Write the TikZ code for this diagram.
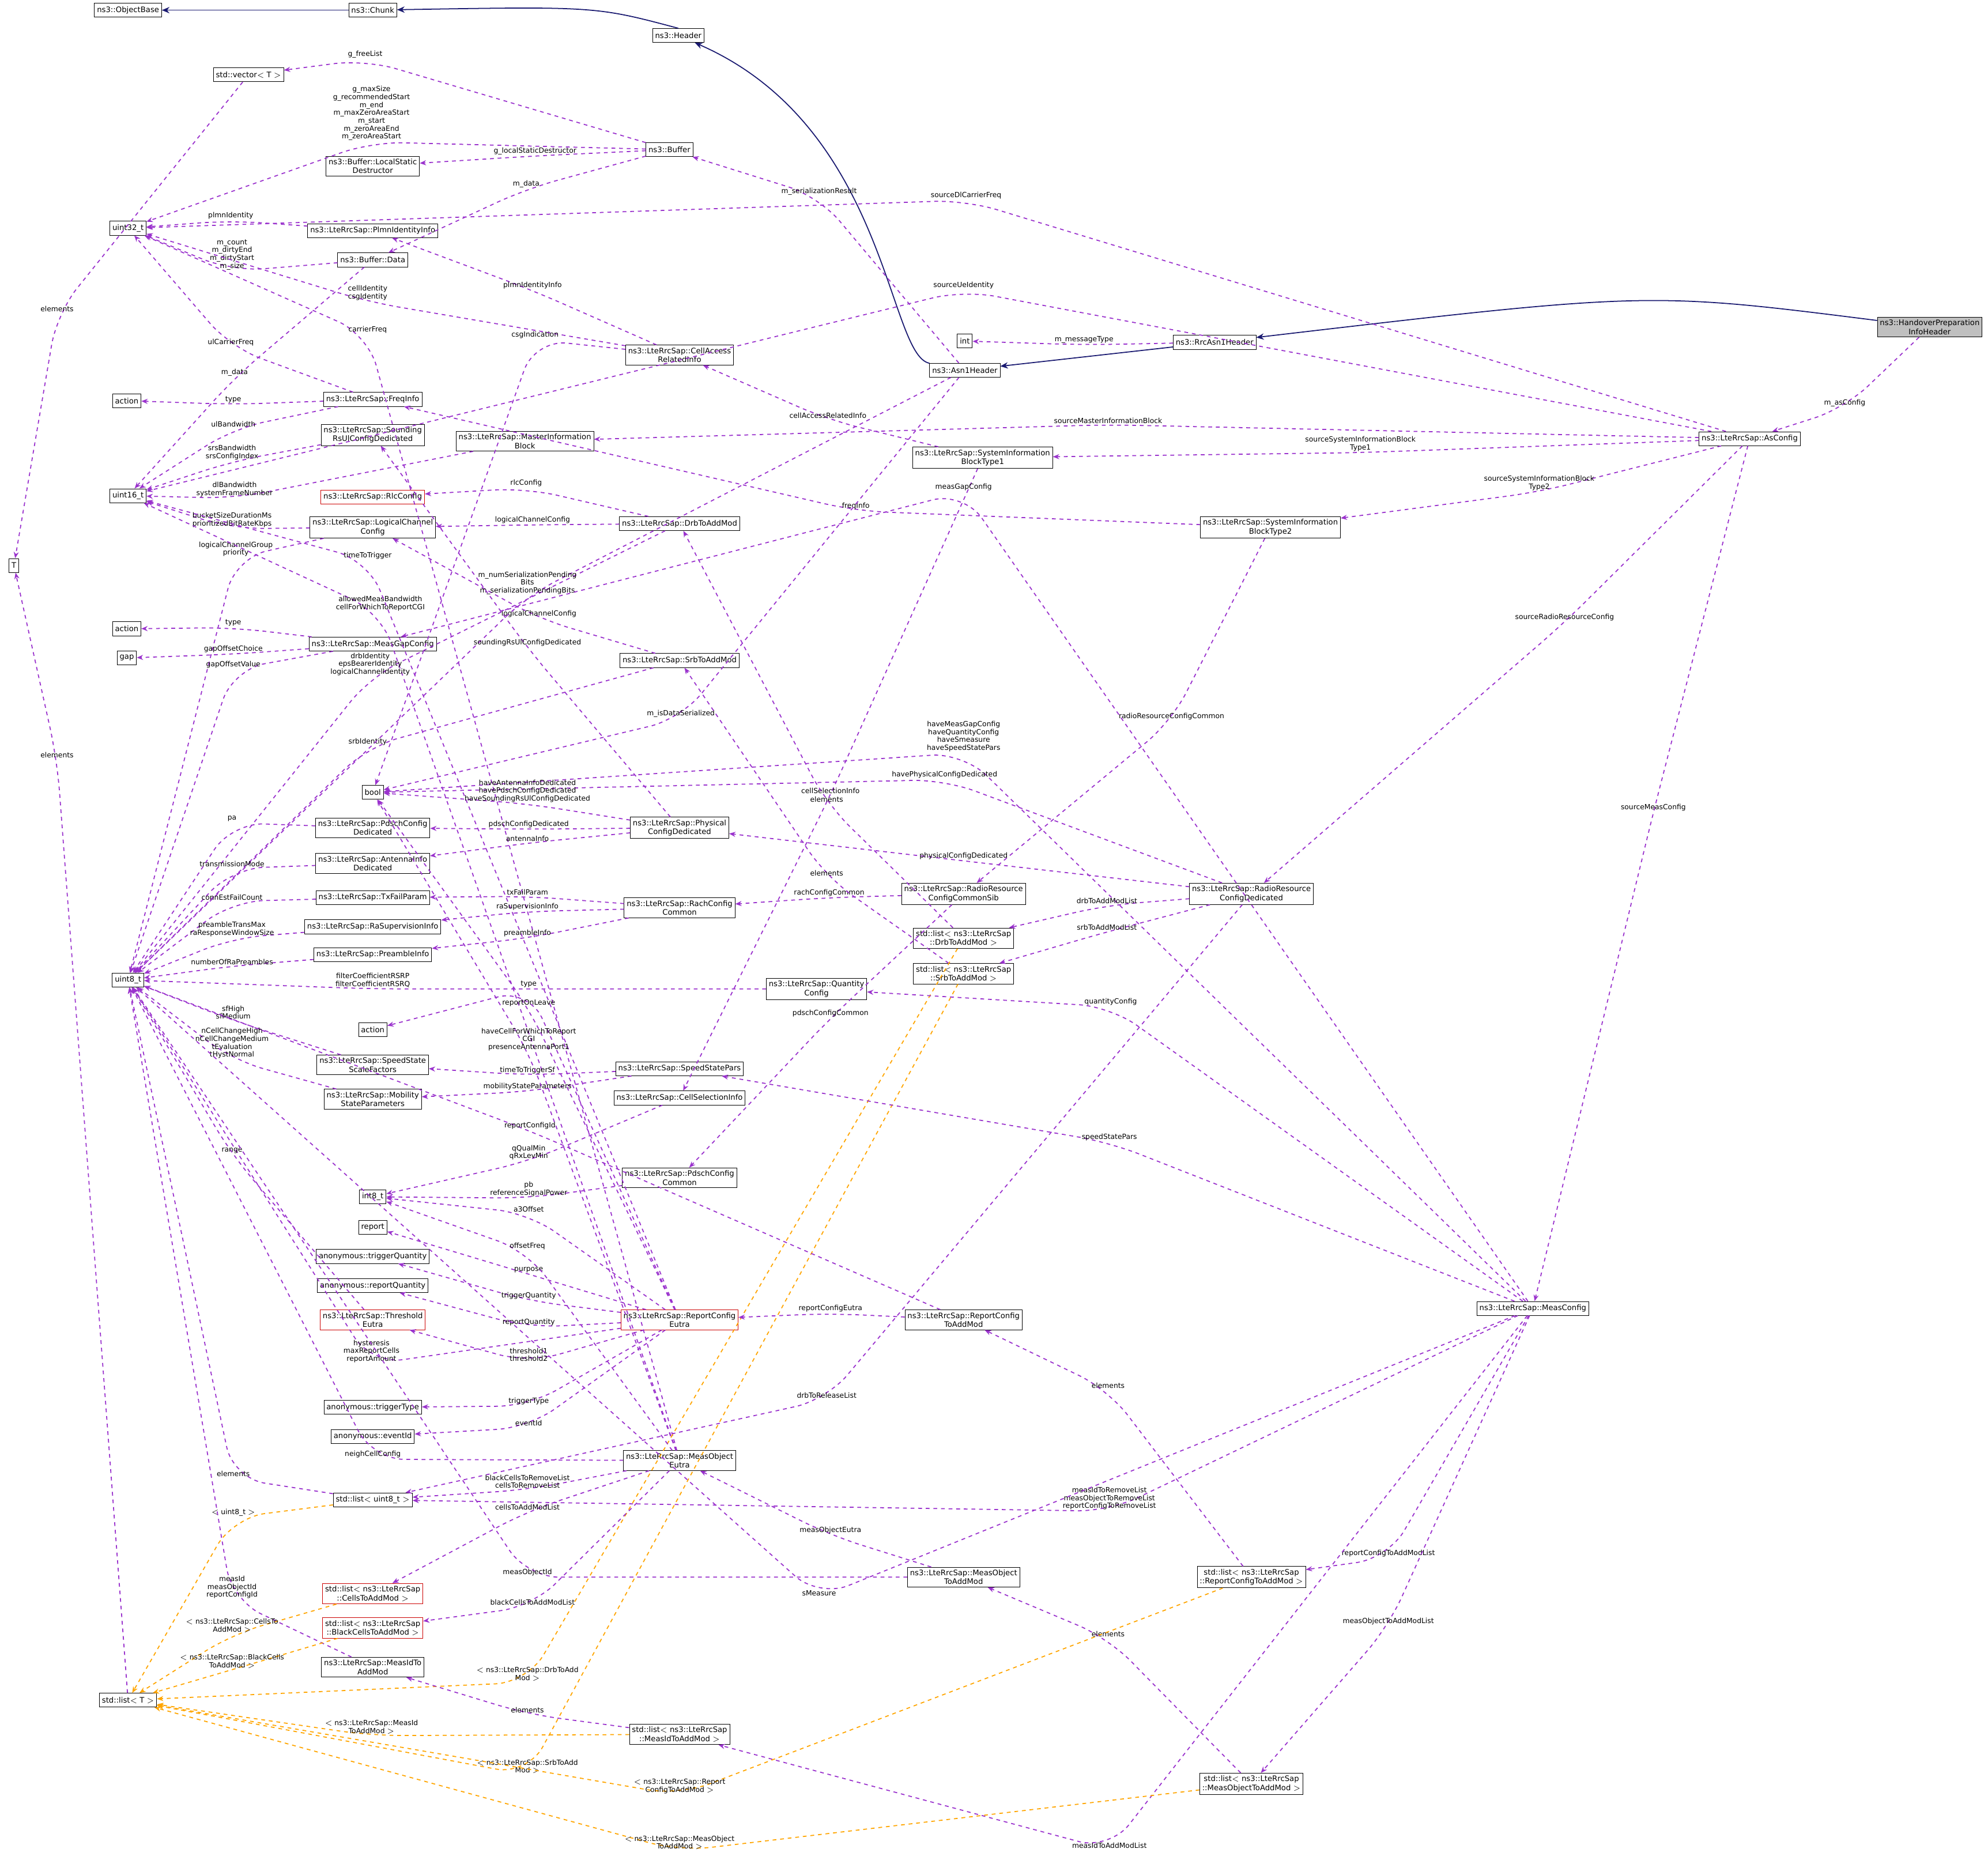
\documentclass[tikz,border=0pt]{standalone}
\usepackage{fontspec}
\setmainfont{DejaVu Sans}
\usetikzlibrary{arrows.meta}
\definecolor{usec}{HTML}{9A32CD}
\definecolor{inhc}{HTML}{191970}
\definecolor{tplc}{HTML}{FFA500}
\tikzset{
 cls/.style={draw=black,fill=white,inner sep=2pt,minimum height=11pt,align=center,font=\fontsize{6}{7}\selectfont},
 red/.style={draw=red!80!black},
 use/.style={draw=usec,dashed,thick,rounded corners=25pt,-{Stealth[length=5pt,width=4pt]}},
 tpl/.style={draw=tplc,dashed,thick,rounded corners=25pt,-{Stealth[length=5pt,width=4pt]}},
 inh/.style={draw=inhc,thick,-{Stealth[length=6pt,width=5pt]}},
 lbl/.style={align=center,inner sep=1pt,font=\fontsize{5.6}{6.2}\selectfont}
}
\newcommand\myE[5][use]{\draw[#1] (#2) -- (#3) -- (#5); \node[lbl,anchor=south] at (#3) {#4};}
\begin{document}
\begin{tikzpicture}[x=1pt,y=-1pt]
\useasboundingbox (0,0) rectangle (1568,1470);
% nodes
\node[cls] (ObjectBase) at (101,8) {ns3::ObjectBase};
\node[cls] (Chunk) at (294,8) {ns3::Chunk};
\node[cls] (Header) at (535,28) {ns3::Header};
\node[cls] (vectorT) at (196,59) {std::vector$<$ T $>$};
\node[cls] (Buffer) at (528,118) {ns3::Buffer};
\node[cls] (LocalStatic) at (294,131) {ns3::Buffer::LocalStatic\\Destructor};
\node[cls] (uint32) at (101,180) {uint32\_t};
\node[cls] (Plmn) at (294,182) {ns3::LteRrcSap::PlmnIdentityInfo};
\node[cls] (BufferData) at (294,205) {ns3::Buffer::Data};
\node[cls] (intN) at (761,269) {int};
\node[cls] (RrcAsn1) at (958,270) {ns3::RrcAsn1Header};
\node[cls] (Asn1) at (761,292) {ns3::Asn1Header};
\node[cls,fill=black!25] (Handover) at (1522,258) {ns3::HandoverPreparation\\InfoHeader};
\node[cls] (CellAccess) at (536,280) {ns3::LteRrcSap::CellAccess\\RelatedInfo};
\node[cls] (action1) at (100,316) {action};
\node[cls] (FreqInfo) at (294,315) {ns3::LteRrcSap::FreqInfo};
\node[cls] (Sounding) at (294,343) {ns3::LteRrcSap::Sounding\\RsUlConfigDedicated};
\node[cls] (MIB) at (414,348) {ns3::LteRrcSap::MasterInformation\\Block};
\node[cls] (uint16) at (101,391) {uint16\_t};
\node[cls] (SIB1) at (775,361) {ns3::LteRrcSap::SystemInformation\\BlockType1};
\node[cls] (AsConfig) at (1380,346) {ns3::LteRrcSap::AsConfig};
\node[cls,red] (Rlc) at (294,392) {ns3::LteRrcSap::RlcConfig};
\node[cls] (Drb) at (536,413) {ns3::LteRrcSap::DrbToAddMod};
\node[cls] (LCC) at (294,416) {ns3::LteRrcSap::LogicalChannel\\Config};
\node[cls] (SIB2) at (1002,416) {ns3::LteRrcSap::SystemInformation\\BlockType2};
\node[cls] (action2) at (100,496) {action};
\node[cls] (gap) at (100,519) {gap};
\node[cls] (MeasGap) at (294,508) {ns3::LteRrcSap::MeasGapConfig};
\node[cls] (Srb) at (536,521) {ns3::LteRrcSap::SrbToAddMod};
\node[cls] (bool) at (294,625) {bool};
\node[cls] (PdschDed) at (294,653) {ns3::LteRrcSap::PdschConfig\\Dedicated};
\node[cls] (Physical) at (536,653) {ns3::LteRrcSap::Physical\\ConfigDedicated};
\node[cls] (Antenna) at (294,681) {ns3::LteRrcSap::AntennaInfo\\Dedicated};
\node[cls] (TxFail) at (294,708) {ns3::LteRrcSap::TxFailParam};
\node[cls] (Rach) at (536,716) {ns3::LteRrcSap::RachConfig\\Common};
\node[cls] (RRSib) at (760,705) {ns3::LteRrcSap::RadioResource\\ConfigCommonSib};
\node[cls] (RRDed) at (987,705) {ns3::LteRrcSap::RadioResource\\ConfigDedicated};
\node[cls] (DrbList) at (760,740) {std::list$<$ ns3::LteRrcSap\\::DrbToAddMod $>$};
\node[cls] (RaSup) at (294,731) {ns3::LteRrcSap::RaSupervisionInfo};
\node[cls] (SrbList) at (760,768) {std::list$<$ ns3::LteRrcSap\\::SrbToAddMod $>$};
\node[cls] (uint8) at (101,773) {uint8\_t};
\node[cls] (Preamble) at (294,753) {ns3::LteRrcSap::PreambleInfo};
\node[cls] (Quantity) at (644,780) {ns3::LteRrcSap::Quantity\\Config};
\node[cls] (action3) at (294,812) {action};
\node[cls] (SSSF) at (294,840) {ns3::LteRrcSap::SpeedState\\ScaleFactors};
\node[cls] (SSP) at (536,843) {ns3::LteRrcSap::SpeedStatePars};
\node[cls] (CellSel) at (536,866) {ns3::LteRrcSap::CellSelectionInfo};
\node[cls] (Mobility) at (294,867) {ns3::LteRrcSap::Mobility\\StateParameters};
\node[cls] (PdschCom) at (536,929) {ns3::LteRrcSap::PdschConfig\\Common};
\node[cls] (int8) at (294,944) {int8\_t};
\node[cls] (report) at (294,968) {report};
\node[cls] (trigQ) at (294,991) {anonymous::triggerQuantity};
\node[cls] (repQ) at (294,1014) {anonymous::reportQuantity};
\node[cls,red] (Thresh) at (294,1041) {ns3::LteRrcSap::Threshold\\Eutra};
\node[cls,red] (RCE) at (536,1041) {ns3::LteRrcSap::ReportConfig\\Eutra};
\node[cls] (RCTAM) at (760,1041) {ns3::LteRrcSap::ReportConfig\\ToAddMod};
\node[cls] (MeasConfig) at (1209,1032) {ns3::LteRrcSap::MeasConfig};
\node[cls] (trigType) at (294,1110) {anonymous::triggerType};
\node[cls] (eventId) at (294,1133) {anonymous::eventId};
\node[cls] (MOE) at (536,1152) {ns3::LteRrcSap::MeasObject\\Eutra};
\node[cls] (listU8) at (294,1183) {std::list$<$ uint8\_t $>$};
\node[cls] (MOTAM) at (760,1244) {ns3::LteRrcSap::MeasObject\\ToAddMod};
\node[cls] (RCList) at (987,1244) {std::list$<$ ns3::LteRrcSap\\::ReportConfigToAddMod $>$};
\node[cls,red] (CellsList) at (294,1257) {std::list$<$ ns3::LteRrcSap\\::CellsToAddMod $>$};
\node[cls,red] (BlackList) at (294,1284) {std::list$<$ ns3::LteRrcSap\\::BlackCellsToAddMod $>$};
\node[cls] (MITAM) at (294,1315) {ns3::LteRrcSap::MeasIdTo\\AddMod};
\node[cls] (listT) at (101,1341) {std::list$<$ T $>$};
\node[cls] (MIList) at (536,1368) {std::list$<$ ns3::LteRrcSap\\::MeasIdToAddMod $>$};
\node[cls] (MOList) at (987,1407) {std::list$<$ ns3::LteRrcSap\\::MeasObjectToAddMod $>$};
\node[cls] (T) at (11,446) {T};
% inheritance
\draw[inh] (Chunk) -- (ObjectBase);
\draw[inh] (Header.north) .. controls (470,5) .. (Chunk);
\draw[inh] (Asn1) .. controls (700,280) and (700,100) .. (Header);
\draw[inh] (RrcAsn1) -- (Asn1);
\draw[inh] (Handover) .. controls (1300,230) .. (RrcAsn1);
% usage
\myE{Buffer}{288,47}{g\_freeList}{vectorT}
\myE{Buffer}{293,112}{g\_maxSize\\g\_recommendedStart\\m\_end\\m\_maxZeroAreaStart\\m\_start\\m\_zeroAreaEnd\\m\_zeroAreaStart}{uint32}
\myE{Buffer}{422,123}{g\_localStaticDestructor}{LocalStatic}
\myE{Buffer}{415,149}{m\_data}{BufferData}
\myE{Asn1}{646,155}{m\_serializationResult}{Buffer}
\myE{RrcAsn1}{855,272}{m\_messageType}{intN}
\myE{Handover}{1455,322}{m\_asConfig}{AsConfig}
\myE{AsConfig}{762,158}{sourceDlCarrierFreq}{uint32}
\myE{AsConfig}{760,229}{sourceUeIdentity}{uint16}
\myE{Plmn}{182,174}{plmnIdentity}{uint32}
\myE{BufferData}{183,214}{m\_count\\m\_dirtyEnd\\m\_dirtyStart\\m\_size}{uint32}
\myE{BufferData}{185,298}{m\_data}{uint16}
\myE{CellAccess}{290,238}{cellIdentity\\csgIdentity}{uint32}
\myE{CellAccess}{420,229}{plmnIdentityInfo}{Plmn}
\myE{CellAccess}{422,268}{csgIndication}{bool}
\myE{MOE}{290,264}{carrierFreq}{uint32}
\myE{FreqInfo}{182,274}{ulCarrierFreq}{uint32}
\myE{FreqInfo}{184,319}{type}{action1}
\myE{FreqInfo}{184,338}{ulBandwidth}{uint16}
\myE{Sounding}{183,364}{srsBandwidth\\srsConfigIndex}{uint16}
\myE{MIB}{185,393}{dlBandwidth\\systemFrameNumber}{uint16}
\myE{LCC}{183,417}{bucketSizeDurationMs\\prioritizedBitRateKbps}{uint16}
\myE{LCC}{186,440}{logicalChannelGroup\\priority}{uint8}
\myE{MOE}{300,483}{allowedMeasBandwidth\\cellForWhichToReportCGI}{uint16}
\myE{RCE}{290,442}{timeToTrigger}{uint16}
\myE{AsConfig}{874,335}{sourceMasterInformationBlock}{MIB}
\myE{AsConfig}{1073,357}{sourceSystemInformationBlock\\Type1}{SIB1}
\myE{AsConfig}{1214,388}{sourceSystemInformationBlock\\Type2}{SIB2}
\myE{AsConfig}{1234,491}{sourceRadioResourceConfig}{RRDed}
\myE{AsConfig}{1304,641}{sourceMeasConfig}{MeasConfig}
\myE{SIB1}{653,331}{cellAccessRelatedInfo}{CellAccess}
\myE{SIB1}{655,627}{cellSelectionInfo}{CellSel}
\myE{SIB2}{675,403}{freqInfo}{FreqInfo}
\myE{SIB2}{924,569}{radioResourceConfigCommon}{RRSib}
\myE{Drb}{415,385}{rlcConfig}{Rlc}
\myE{Drb}{420,414}{logicalChannelConfig}{LCC}
\myE{Drb}{292,534}{drbIdentity\\epsBearerIdentity\\logicalChannelIdentity}{uint8}
\myE{Srb}{425,488}{logicalChannelConfig}{LCC}
\myE{Srb}{290,589}{srbIdentity}{uint8}
\myE{Asn1}{416,470}{m\_numSerializationPending\\Bits\\m\_serializationPendingBits}{uint8}
\myE{Asn1}{537,567}{m\_isDataSerialized}{bool}
\myE{MeasConfig}{760,388}{measGapConfig}{MeasGap}
\myE{MeasGap}{184,495}{type}{action2}
\myE{MeasGap}{184,516}{gapOffsetChoice}{gap}
\myE{MeasGap}{184,528}{gapOffsetValue}{uint8}
\myE{MeasConfig}{760,594}{haveMeasGapConfig\\haveQuantityConfig\\haveSmeasure\\haveSpeedStatePars}{bool}
\myE{RRDed}{745,615}{havePhysicalConfigDedicated}{bool}
\myE{Physical}{416,634}{haveAntennaInfoDedicated\\havePdschConfigDedicated\\haveSoundingRsUlConfigDedicated}{bool}
\myE{Physical}{416,511}{soundingRsUlConfigDedicated}{Sounding}
\myE{Physical}{417,654}{pdschConfigDedicated}{PdschDed}
\myE{Physical}{416,665}{antennaInfo}{Antenna}
\myE{PdschDed}{183,649}{pa}{uint8}
\myE{Antenna}{183,685}{transmissionMode}{uint8}
\myE{TxFail}{183,711}{connEstFailCount}{uint8}
\myE{RaSup}{183,740}{preambleTransMax\\raResponseWindowSize}{uint8}
\myE{Preamble}{183,762}{numberOfRaPreambles}{uint8}
\myE{Rach}{416,707}{txFailParam}{TxFail}
\myE{Rach}{416,719}{raSupervisionInfo}{RaSup}
\myE{Rach}{416,740}{preambleInfo}{Preamble}
\myE{RRSib}{654,708}{rachConfigCommon}{Rach}
\myE{RRSib}{655,803}{pdschConfigCommon}{PdschCom}
\myE{RRDed}{760,679}{physicalConfigDedicated}{Physical}
\myE{RRDed}{873,714}{drbToAddModList}{DrbList}
\myE{RRDed}{873,735}{srbToAddModList}{SrbList}
\myE{RRDed}{652,1104}{drbToReleaseList}{listU8}
\myE{DrbList}{652,634}{elements}{Drb}
\myE{SrbList}{652,692}{elements}{Srb}
\myE[tpl]{DrbList}{416,1327}{$<$ ns3::LteRrcSap::DrbToAdd\\Mod $>$}{listT}
\myE[tpl]{SrbList}{416,1400}{$<$ ns3::LteRrcSap::SrbToAdd\\Mod $>$}{listT}
\myE{Quantity}{294,780}{filterCoefficientRSRP\\filterCoefficientRSRQ}{uint8}
\myE{MeasConfig}{876,794}{quantityConfig}{Quantity}
\myE{MeasConfig}{875,901}{speedStatePars}{SSP}
\myE{RCE}{417,780}{type}{action3}
\myE{SSP}{416,848}{timeToTriggerSf}{SSSF}
\myE{SSP}{416,861}{mobilityStateParameters}{Mobility}
\myE{SSSF}{184,805}{sfHigh\\sfMedium}{uint8}
\myE{Mobility}{183,836}{nCellChangeHigh\\nCellChangeMedium\\tEvaluation\\tHystNormal}{uint8}
\myE{CellSel}{417,916}{qQualMin\\qRxLevMin}{int8}
\myE{PdschCom}{417,945}{pb\\referenceSignalPower}{int8}
\myE{RCE}{417,957}{a3Offset}{int8}
\myE{RCE}{417,1005}{purpose}{report}
\myE{RCE}{417,1026}{triggerQuantity}{trigQ}
\myE{RCE}{417,1047}{reportQuantity}{repQ}
\myE{RCE}{417,1075}{threshold1\\threshold2}{Thresh}
\myE{RCE}{293,1076}{hysteresis\\maxReportCells\\reportAmount}{uint8}
\myE{RCE}{417,1109}{triggerType}{trigType}
\myE{RCE}{417,1126}{eventId}{eventId}
\myE{RCE}{417,795}{reportOnLeave}{bool}
\myE{MOE}{417,830}{haveCellForWhichToReport\\CGI\\presenceAntennaPort1}{bool}
\myE{MOE}{416,987}{offsetFreq}{int8}
\myE{MOE}{294,1151}{neighCellConfig}{uint8}
\myE{MOE}{416,1175}{blackCellsToRemoveList\\cellsToRemoveList}{listU8}
\myE{MOE}{416,1192}{cellsToAddModList}{CellsList}
\myE{MOE}{420,1267}{blackCellsToAddModList}{BlackList}
\myE{Thresh}{183,911}{range}{uint8}
\myE{RCTAM}{655,1036}{reportConfigEutra}{RCE}
\myE{RCTAM}{418,892}{reportConfigId}{uint8}
\myE{listU8}{184,1166}{elements}{uint8}
\myE[tpl]{listU8}{184,1197}{$<$ uint8\_t $>$}{listT}
\myE{MOTAM}{655,1211}{measObjectEutra}{MOE}
\myE{MOTAM}{416,1244}{measObjectId}{uint8}
\myE{MeasConfig}{875,1192}{measIdToRemoveList\\measObjectToRemoveList\\reportConfigToRemoveList}{listU8}
\myE{MeasConfig}{646,1260}{sMeasure}{uint8}
\myE{MeasConfig}{1095,1229}{reportConfigToAddModList}{RCList}
\myE{MeasConfig}{1095,1283}{measObjectToAddModList}{MOList}
\myE{MeasConfig}{875,1459}{measIdToAddModList}{MIList}
\myE{RCList}{874,1096}{elements}{RCTAM}
\myE{MOList}{874,1292}{elements}{MOTAM}
\myE{MIList}{416,1352}{elements}{MITAM}
\myE{MITAM}{183,1262}{measId\\measObjectId\\reportConfigId}{uint8}
\myE[tpl]{CellsList}{183,1289}{$<$ ns3::LteRrcSap::CellsTo\\AddMod $>$}{listT}
\myE[tpl]{BlackList}{183,1317}{$<$ ns3::LteRrcSap::BlackCells\\ToAddMod $>$}{listT}
\myE[tpl]{MIList}{293,1369}{$<$ ns3::LteRrcSap::MeasId\\ToAddMod $>$}{listT}
\myE[tpl]{RCList}{536,1416}{$<$ ns3::LteRrcSap::Report\\ConfigToAddMod $>$}{listT}
\myE[tpl]{MOList}{536,1460}{$<$ ns3::LteRrcSap::MeasObject\\ToAddMod $>$}{listT}
\myE{listT}{45,599}{elements}{T}
\myE{vectorT}{45,247}{elements}{T}
\end{tikzpicture}
\end{document}
